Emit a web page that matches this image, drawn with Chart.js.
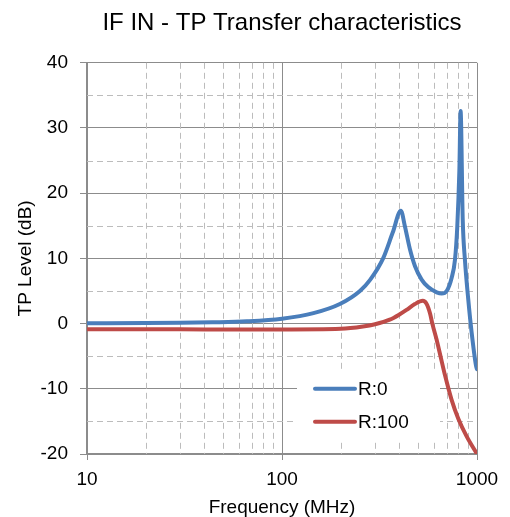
<!DOCTYPE html>
<html>
<head>
<meta charset="utf-8">
<script src="https://cdn.jsdelivr.net/npm/chart.js@4.4.1/dist/chart.umd.min.js"></script>
<style>
    html, body { margin: 0; padding: 0; background: #ffffff; }
    #caixa { width: 510px; height: 517px; }
</style>
</head>
<body>
<div id="caixa"><canvas id="graficoTransfer"></canvas></div>
<script>
// curva R:0 (MHz, dB)
const freqR0  = [10, 20, 30, 44, 66, 100, 145, 198, 251, 283, 330, 370, 407, 427, 453, 481, 520, 562, 621, 659, 699, 741, 771, 792, 812, 824, 845, 867, 902, 939, 989, 1000];
const nivelR0 = [0.05, 0.08, 0.12, 0.2, 0.35, 0.75, 1.6, 3.0, 5.0, 6.7, 10.0, 14.0, 17.3, 14.9, 11.4, 8.8, 6.75, 5.6, 4.8, 4.6, 5.0, 7.0, 9.8, 14.8, 23.5, 32.6, 15.9, 9.8, 3.7, -1.4, -6.5, -7.0];

// curva R:100 (MHz, dB)
const freqR100  = [10, 30, 100, 200, 260, 300, 357, 400, 435, 480, 527, 550, 574, 590, 620, 650, 685, 741, 802, 885, 1000];
const nivelR100 = [-0.85, -0.88, -0.9, -0.8, -0.45, -0.1, 0.6, 1.4, 2.1, 3.0, 3.5, 3.1, 1.6, 0.0, -2.4, -5.0, -7.9, -11.7, -14.6, -17.3, -20];

const rotulos = ['R:0', 'R:100'];
const cores   = ['#4A7EBB', '#BE4B48'];

// eixos
const ticksX      = [10, 100, 1000];
const ticksXMenor = [20, 30, 40, 50, 60, 70, 80, 90, 200, 300, 400, 500, 600, 700, 800, 900];
const ticksY      = [-20, -10, 0, 10, 20, 30, 40];
const ticksYMenor = [-15, -5, 5, 15, 25, 35];

const fonte = 'Liberation Sans, Arial, sans-serif';
Chart.defaults.font.family = fonte;
Chart.defaults.color = '#000000';

const corGrade = '#8c8c8c';

// linhas tracejadas secundarias + legenda dentro da area do grafico
const gradeMenor = {
    id: 'gradeMenor',
    beforeDatasetsDraw(chart) {
        const { ctx, chartArea: a, scales: { x, y } } = chart;
        ctx.save();
        ctx.strokeStyle = '#bcbcbc';
        ctx.lineWidth = 1;
        ctx.setLineDash([6, 4]);
        ctx.beginPath();
        ticksXMenor.forEach(v => {
            const px = Math.round(x.getPixelForValue(v)) + 0.5;
            ctx.moveTo(px, a.top);
            ctx.lineTo(px, a.bottom);
        });
        ticksYMenor.forEach(v => {
            const py = Math.round(y.getPixelForValue(v)) + 0.5;
            ctx.moveTo(a.left, py);
            ctx.lineTo(a.right, py);
        });
        ctx.stroke();
        ctx.restore();

        // legenda
        const x0 = a.left + 210;
        const y0 = a.top + 309;
        ctx.save();
        ctx.fillStyle = '#ffffff';
        ctx.fillRect(x0, y0, 143, 70);
        ctx.font = '19px ' + fonte;
        ctx.textBaseline = 'middle';
        chart.data.datasets.forEach((ds, i) => {
            const ly = y0 + 17 + i * 33;
            ctx.strokeStyle = ds.borderColor;
            ctx.lineWidth = 4;
            ctx.lineCap = 'round';
            ctx.beginPath();
            ctx.moveTo(x0 + 18, ly);
            ctx.lineTo(x0 + 58, ly);
            ctx.stroke();
            ctx.fillStyle = '#000000';
            ctx.fillText(ds.label, x0 + 61, ly + 1);
        });
        ctx.restore();
    }
};

function montarSerie(freqs, niveis) {
    return freqs.map((f, i) => ({ x: f, y: niveis[i] }));
}

new Chart(document.getElementById('graficoTransfer'), {
    type: 'scatter',
    data: {
        datasets: [
            {
                label: rotulos[0],
                data: montarSerie(freqR0, nivelR0),
                borderColor: cores[0],
                backgroundColor: cores[0],
            },
            {
                label: rotulos[1],
                data: montarSerie(freqR100, nivelR100),
                borderColor: cores[1],
                backgroundColor: cores[1],
            }
        ].map(ds => Object.assign(ds, {
            showLine: true,
            borderWidth: 4,
            pointRadius: 0,
            pointHoverRadius: 0,
            cubicInterpolationMode: 'monotone',
            borderCapStyle: 'round',
            borderJoinStyle: 'round',
        }))
    },
    options: {
        responsive: true,
        maintainAspectRatio: false,
        animation: false,
        layout: { padding: { left: 0, right: 33, top: 0, bottom: 0 } },
        plugins: {
            legend: { display: false },
            tooltip: { enabled: false },
            title: {
                display: true,
                fullSize: false,
                text: 'IF IN - TP Transfer characteristics',
                color: '#000000',
                font: { size: 24, weight: 'normal' },
                padding: { top: 9, bottom: 25 }
            }
        },
        scales: {
            x: {
                type: 'logarithmic',
                min: 10,
                max: 1000,
                afterBuildTicks: axis => { axis.ticks = ticksX.map(v => ({ value: v })); },
                afterFit: axis => { axis.height = 63; },
                ticks: {
                    autoSkip: false,
                    maxRotation: 0,
                    padding: 8,
                    font: { size: 19 },
                    color: '#000000',
                    callback: v => String(v)
                },
                grid: { color: corGrade, lineWidth: 1, tickLength: 6 },
                border: { color: corGrade, width: 2 },
                title: {
                    display: true,
                    text: 'Frequency (MHz)',
                    color: '#000000',
                    font: { size: 19 },
                    padding: { top: 0, bottom: -2 }
                }
            },
            y: {
                min: -20,
                max: 40,
                afterBuildTicks: axis => { axis.ticks = ticksY.map(v => ({ value: v })); },
                afterFit: axis => { axis.width = 87; },
                ticks: {
                    padding: 12,
                    font: { size: 19 },
                    color: '#000000'
                },
                grid: { color: corGrade, lineWidth: 1, tickLength: 7 },
                border: { color: corGrade, width: 2 },
                title: {
                    display: true,
                    text: 'TP Level (dB)',
                    color: '#000000',
                    font: { size: 19 },
                    padding: { top: 14, bottom: 0 }
                }
            }
        }
    },
    plugins: [gradeMenor]
});
</script>
</body>
</html>
